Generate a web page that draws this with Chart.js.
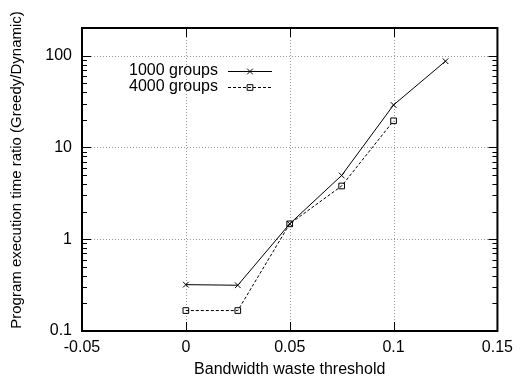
<!DOCTYPE html>
<html>
<head>
<meta charset="utf-8">
<script src="https://cdn.jsdelivr.net/npm/chart.js@4/dist/chart.umd.min.js"></script>
<style>
  html, body { margin: 0; padding: 0; background: #fff; }
  #c { display: block; }
</style>
</head>
<body>
<canvas id="c" width="520" height="379"></canvas>
<script>
// Bandwidth waste threshold values (x) and execution time ratios
const thresholds = [0, 0.025, 0.05, 0.075, 0.1, 0.125];
const ratio1000 = [0.32, 0.315, 1.47, 4.95, 29, 87];
const ratio4000 = [0.167, 0.167, 1.47, 3.8, 19.5];
const seriesNames = ['1000 groups', '4000 groups'];
const xTickValues = [-0.05, 0, 0.05, 0.1, 0.15];
const yTickValues = [0.1, 1, 10, 100];
const yAxisTitle = 'Program execution time ratio (Greedy/Dynamic)';

const FONT = 'Liberation Sans, Arial, Helvetica, sans-serif';

function toPoints(values) {
  return values.map((v, i) => ({ x: thresholds[i], y: v }));
}

// Frame, inward ticks, dotted grid, y label and key, drawn in gnuplot style
const framePlugin = {
  id: 'frame',
  beforeDatasetsDraw(chart) {
    const { ctx, chartArea: a, scales: { x, y } } = chart;
    ctx.save();
    ctx.strokeStyle = '#999';
    ctx.lineWidth = 1;
    ctx.setLineDash([1, 2]);
    xTickValues.forEach(v => {
      const px = Math.round(x.getPixelForValue(v)) + 0.5;
      if (px <= a.left + 1 || px >= a.right - 1) return;
      ctx.beginPath(); ctx.moveTo(px, a.top); ctx.lineTo(px, a.bottom); ctx.stroke();
    });
    yTickValues.forEach(v => {
      const py = Math.round(y.getPixelForValue(v)) + 0.5;
      if (py <= a.top + 1 || py >= a.bottom - 1) return;
      ctx.beginPath(); ctx.moveTo(a.left, py); ctx.lineTo(a.right, py); ctx.stroke();
    });
    ctx.restore();

    // rotated y-axis label
    ctx.save();
    ctx.fillStyle = '#000';
    ctx.font = '15px ' + FONT;
    ctx.textAlign = 'center';
    ctx.textBaseline = 'middle';
    ctx.translate(17, 170);
    ctx.rotate(-Math.PI / 2);
    ctx.fillText(yAxisTitle, 0, 0);
    ctx.restore();
  },
  afterDatasetsDraw(chart) {
    const { ctx, chartArea: a, scales: { x, y } } = chart;
    ctx.save();
    ctx.strokeStyle = '#000';
    ctx.lineWidth = 1;
    ctx.setLineDash([]);
    // y ticks, major and minor, on both sides
    const yMax = y.max;
    yTickValues.forEach(d => {
      for (let m = 1; m <= 9; m++) {
        const v = m * d;
        if (v > yMax) break;
        const py = Math.round(y.getPixelForValue(v)) + 0.5;
        const len = m === 1 ? 9 : 5;
        ctx.beginPath();
        ctx.moveTo(a.left, py); ctx.lineTo(a.left + len, py);
        ctx.moveTo(a.right, py); ctx.lineTo(a.right - len, py);
        ctx.stroke();
      }
    });
    // x ticks, bottom and top
    xTickValues.forEach(v => {
      const px = Math.round(x.getPixelForValue(v)) + 0.5;
      ctx.beginPath();
      ctx.moveTo(px, a.bottom); ctx.lineTo(px, a.bottom - 9);
      ctx.moveTo(px, a.top); ctx.lineTo(px, a.top + 9);
      ctx.stroke();
    });
    // frame
    ctx.lineWidth = 2;
    ctx.strokeRect(a.left, a.top, a.right - a.left, a.bottom - a.top);

    // key
    ctx.font = '16px ' + FONT;
    ctx.textAlign = 'right';
    ctx.textBaseline = 'middle';
    chart.data.datasets.forEach((ds, i) => {
      const ky = 71 + i * 16;
      ctx.fillStyle = '#000';
      ctx.fillText(ds.label, 218, ky);
      ctx.save();
      ctx.lineWidth = 1;
      ctx.strokeStyle = '#000';
      ctx.setLineDash(ds.borderDash || []);
      ctx.beginPath(); ctx.moveTo(228, ky + 0.5); ctx.lineTo(272, ky + 0.5); ctx.stroke();
      ctx.setLineDash([]);
      ctx.fillStyle = 'rgba(0,0,0,0)';
      Chart.helpers.drawPoint(ctx, {
        pointStyle: ds.pointStyle,
        radius: ds.pointRadius,
        rotation: 0,
        borderWidth: 1
      }, 250, ky + 0.5);
      ctx.restore();
    });
    ctx.restore();
  }
};

new Chart(document.getElementById('c'), {
  type: 'scatter',
  data: {
    datasets: [
      {
        label: seriesNames[0],
        data: toPoints(ratio1000),
        showLine: true,
        borderColor: '#000',
        backgroundColor: 'rgba(0,0,0,0)',
        borderWidth: 1,
        pointStyle: 'crossRot',
        pointRadius: 4,
        pointBorderWidth: 1,
        pointBorderColor: '#000'
      },
      {
        label: seriesNames[1],
        data: toPoints(ratio4000),
        showLine: true,
        borderColor: '#000',
        backgroundColor: 'rgba(0,0,0,0)',
        borderWidth: 1,
        borderDash: [3, 2],
        pointStyle: 'rect',
        pointRadius: 4,
        pointBorderWidth: 1,
        pointBorderColor: '#000'
      }
    ]
  },
  options: {
    responsive: false,
    animation: false,
    layout: { padding: { top: 28, right: 19, left: 0, bottom: 0 } },
    plugins: { legend: { display: false }, tooltip: { enabled: false } },
    scales: {
      x: {
        type: 'linear',
        min: -0.05,
        max: 0.15,
        afterBuildTicks: s => { s.ticks = xTickValues.map(v => ({ value: v })); },
        afterFit: s => { s.height = 48; },
        grid: { display: false, drawTicks: false },
        border: { display: false },
        ticks: {
          color: '#000',
          font: { family: FONT, size: 16 },
          padding: 7,
          maxRotation: 0,
          callback: v => String(v)
        },
        title: {
          display: true,
          text: 'Bandwidth waste threshold',
          color: '#000',
          font: { family: FONT, size: 16 },
          padding: { top: 0, bottom: 0 }
        }
      },
      y: {
        type: 'logarithmic',
        min: 0.1,
        max: 200,
        afterBuildTicks: s => { s.ticks = yTickValues.map(v => ({ value: v })); },
        afterFit: s => { s.width = 82; },
        grid: { display: false, drawTicks: false },
        border: { display: false },
        ticks: {
          color: '#000',
          font: { family: FONT, size: 16 },
          padding: 10,
          callback: v => String(v)
        }
      }
    }
  },
  plugins: [framePlugin]
});
</script>
</body>
</html>
